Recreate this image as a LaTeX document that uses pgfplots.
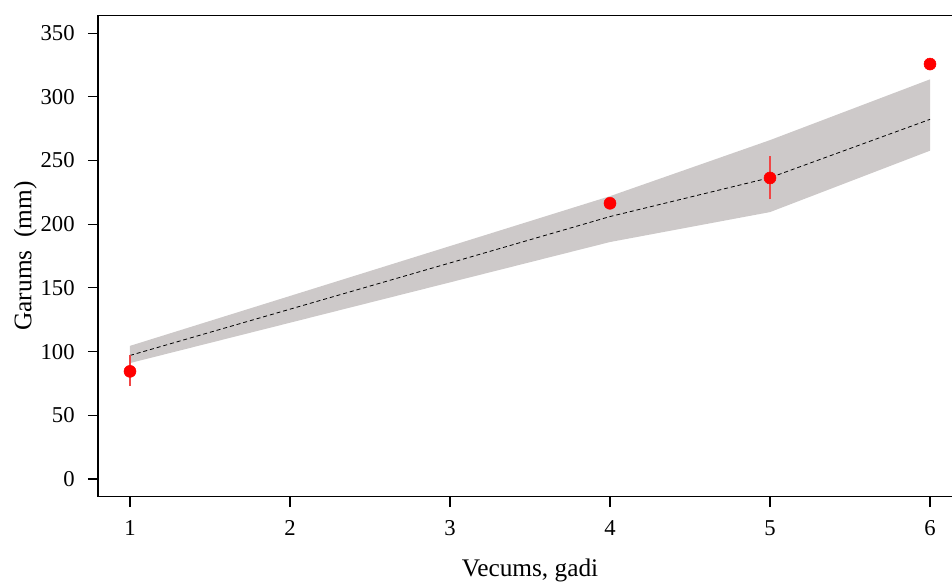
\documentclass[border=0pt]{standalone}
\usepackage{fontspec}
\setmainfont{Liberation Serif}
\usepackage{pgfplots}
\pgfplotsset{compat=1.18}
\definecolor{bandgrey}{RGB}{205,201,201}
\definecolor{ptred}{RGB}{255,0,0}
\definecolor{barred}{RGB}{240,70,70}
\begin{document}
\begin{tikzpicture}
\begin{axis}[
  scale only axis,
  x=120pt, y=0.9555pt,
  xmin=0.8, xmax=6.2, ymin=-14, ymax=364,
  xtick={1,2,3,4,5,6},
  ytick={0,50,100,150,200,250,300,350},
  xtick pos=bottom, ytick pos=left,
  tick align=outside,
  major tick length=7.5pt,
  tick style={black, line width=0.8pt},
  axis line style={black, line width=0.9pt},
  /pgf/number format/assume math mode=true,
  ticklabel style={font=\fontsize{17pt}{20pt}\selectfont},
  xticklabel style={yshift=-6.5pt},
  yticklabel style={xshift=-6.5pt},
  xlabel={Vecums, gadi},
  ylabel={Garums\ \ (mm)},
  label style={font=\fontsize{19pt}{22pt}\selectfont},
  xlabel style={at={(axis description cs:0.5,0)}, anchor=base, yshift=-60pt},
  ylabel style={at={(axis description cs:0,0.5)}, anchor=center, yshift=54.5pt},
  clip=false,
]
\addplot[fill=bandgrey, draw=none] coordinates {
  (1,104.5) (4,222) (5,266) (6,313.7) (6,257.7) (5,209.5) (4,186) (1,91)
} -- cycle;
\addplot[black, line width=0.6pt, dash pattern=on 3pt off 2.2pt] coordinates {
  (1,97) (2,133.3) (3,169.6) (4,206) (5,236.5) (6,282.3)
};
\addplot[barred, line width=1.1pt] coordinates {(1,73) (1,97.3)};
\addplot[barred, line width=1.1pt] coordinates {(5,219.5) (5,253.5)};
\addplot[only marks, mark=*, mark size=4.5pt, mark options={draw=ptred, fill=ptred}] coordinates {
  (1,84.5) (4,216.4) (5,236.3) (6,325.7)
};
\coordinate (bl) at (axis cs:0.1875,-81.63);
\coordinate (tr) at (axis cs:6.1375,375.98);
\end{axis}
\pgfresetboundingbox
\useasboundingbox (bl) rectangle (tr);
\end{tikzpicture}
\end{document}
